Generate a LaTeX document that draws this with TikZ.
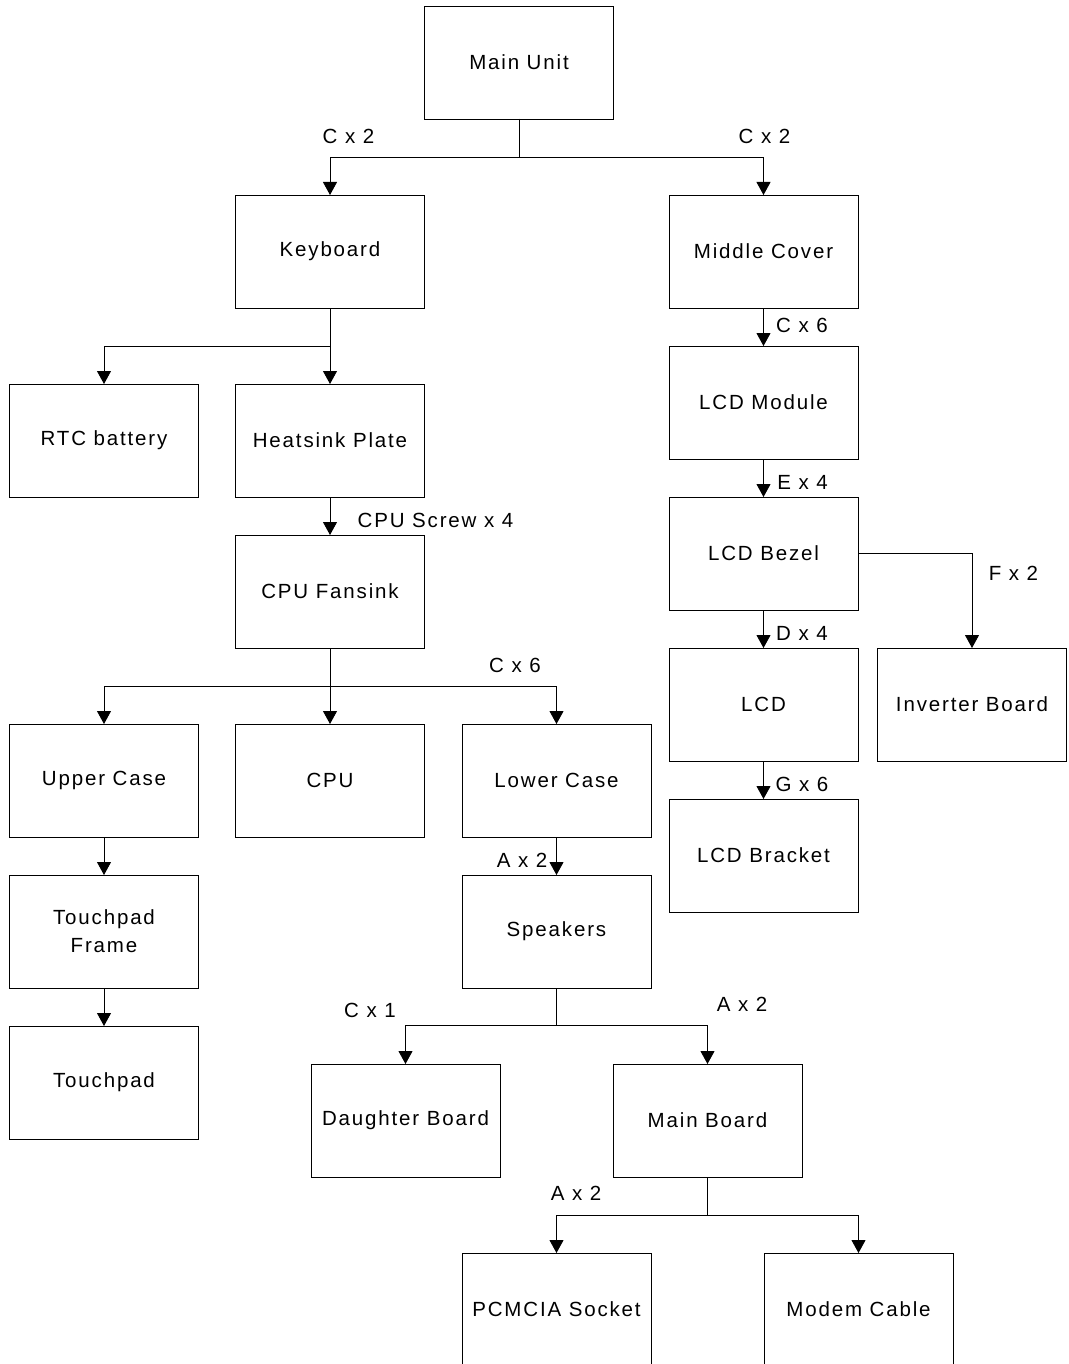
\documentclass[tikz,border=0pt]{standalone}
\usepackage{fontspec}
\setmainfont{Liberation Sans}[LetterSpace=9]
\usepackage{tikz}
\usetikzlibrary{arrows.meta, positioning, calc}

\begin{document}
\begin{tikzpicture}[
        x=1pt, y=-1pt,
        >={Triangle[width=14pt,length=13pt]},
        box/.style={draw, line width=0.9pt, minimum width=189pt, minimum height=113pt, inner sep=0pt, outer sep=0pt, align=center, font=\fontsize{20.5}{28}\selectfont},
        lbl/.style={font=\fontsize{20.5}{24}\selectfont, inner sep=0pt},
        conn/.style={->, line width=0.9pt}
    ]
    \clip (0,0) rectangle (1068,1364);

    % --- Top ---
    \node[box] (mainunit) at (519,62.5) {Main Unit};
    \node[box] (keyboard) at (330,251.5) {Keyboard};
    \node[box] (midcover) at (763.5,251.5) {Middle Cover};

    % --- Left branch ---
    \node[box] (rtc) at (104,440.5) {RTC battery};
    \node[box] (heatsink) at (330,440.5) {Heatsink Plate};
    \node[box, below=38pt of heatsink] (fansink) {CPU Fansink};
    \node[box] (uppercase) at (104,780.5) {Upper Case};
    \node[box] (cpu) at (330,780.5) {CPU};
    \node[box] (lowercase) at (556.5,780.5) {Lower Case};
    \node[box, below=38pt of uppercase] (tpframe) {Touchpad\\Frame};
    \node[box, below=38pt of tpframe] (touchpad) {Touchpad};
    \node[box, below=38pt of lowercase] (speakers) {Speakers};
    \node[box] (daughter) at (405.5,1120.5) {Daughter Board};
    \node[box] (mainboard) at (707.5,1120.5) {Main Board};
    \node[box] (pcmcia) at (556.5,1309.5) {PCMCIA Socket};
    \node[box] (modem) at (858.5,1309.5) {Modem Cable};

    % --- Right branch ---
    \node[box, below=38pt of midcover] (lcdmodule) {LCD Module};
    \node[box, below=38pt of lcdmodule] (lcdbezel) {LCD Bezel};
    \node[box, below=38pt of lcdbezel] (lcd) {LCD};
    \node[box] (inverter) at (972,704.5) {Inverter Board};
    \node[box, below=38pt of lcd] (lcdbracket) {LCD Bracket};

    % --- Connectors ---
    \draw[conn] (mainunit.south) -- ++(0,38) -| (keyboard.north);
    \draw[conn] (mainunit.south) -- ++(0,38) -| (midcover.north);
    \draw[conn] (keyboard.south) -- ++(0,38) -| (rtc.north);
    \draw[conn] (keyboard.south) -- (heatsink.north);
    \draw[conn] (heatsink.south) -- (fansink.north);
    \draw[conn] (fansink.south) -- ++(0,38) -| (uppercase.north);
    \draw[conn] (fansink.south) -- (cpu.north);
    \draw[conn] (fansink.south) -- ++(0,38) -| (lowercase.north);
    \draw[conn] (uppercase.south) -- (tpframe.north);
    \draw[conn] (tpframe.south) -- (touchpad.north);
    \draw[conn] (lowercase.south) -- (speakers.north);
    \draw[conn] (speakers.south) -- ++(0,37) -| (daughter.north);
    \draw[conn] (speakers.south) -- ++(0,37) -| (mainboard.north);
    \draw[conn] (mainboard.south) -- ++(0,38) -| (pcmcia.north);
    \draw[conn] (mainboard.south) -- ++(0,38) -| (modem.north);
    \draw[conn] (midcover.south) -- (lcdmodule.north);
    \draw[conn] (lcdmodule.south) -- (lcdbezel.north);
    \draw[conn] (lcdbezel.south) -- (lcd.north);
    \draw[conn] (lcdbezel.east) -| (inverter.north);
    \draw[conn] (lcd.south) -- (lcdbracket.north);

    % --- Screw labels ---
    \node[lbl] (lblkb) at (348.5,136) {C x 2};
    \node[lbl] (lblmc) at (764.5,136) {C x 2};
    \node[lbl] (lblcpuscrew) at (435.5,520) {CPU Screw x 4};
    \node[lbl] (lblfan) at (515,665) {C x 6};
    \node[lbl] (lbllower) at (522,860) {A x 2};
    \node[lbl] (lbldaughter) at (370,1010) {C x 1};
    \node[lbl] (lblspk) at (742,1004) {A x 2};
    \node[lbl] (lblmb) at (576,1193) {A x 2};
    \node[lbl] (lbllcdmod) at (802,325) {C x 6};
    \node[lbl] (lblbezel) at (802.5,482) {E x 4};
    \node[lbl] (lbllcd) at (802,633) {D x 4};
    \node[lbl] (lblinv) at (1013.5,573) {F x 2};
    \node[lbl] (lblbracket) at (802,784) {G x 6};
\end{tikzpicture}
\end{document}
